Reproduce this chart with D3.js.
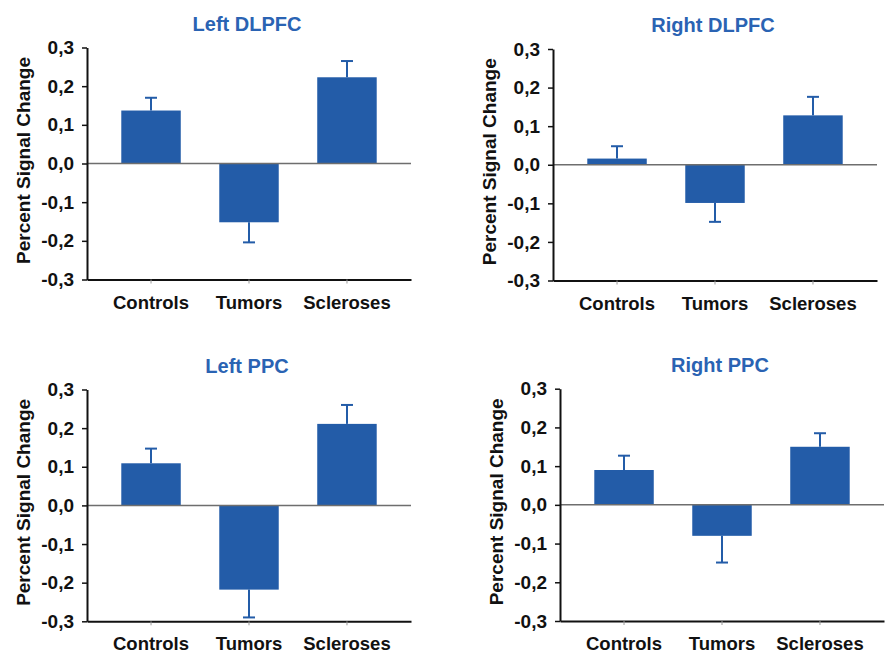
<!DOCTYPE html>
<html>
<head>
<meta charset="utf-8">
<script src="https://cdn.jsdelivr.net/npm/d3@7"></script>
<style>
  body { margin: 0; background: #fff; }
  svg { display: block; font-family: "Liberation Sans", Arial, sans-serif; font-weight: bold; }
</style>
</head>
<body>
<div id="chart"></div>
<script>
// data
const categories = ["Controls", "Tumors", "Scleroses"];
const titles = ["Left DLPFC", "Right DLPFC", "Left PPC", "Right PPC"];
const tickValues = [-0.3, -0.2, -0.1, 0.0, 0.1, 0.2, 0.3];

const leftDLPFC = [0.137, -0.152, 0.223];
const leftDLPFCErr = [0.033, 0.052, 0.042];
const rightDLPFC = [0.016, -0.099, 0.128];
const rightDLPFCErr = [0.032, 0.049, 0.048];
const leftPPC = [0.109, -0.218, 0.211];
const leftPPCErr = [0.038, 0.072, 0.049];
const rightPPC = [0.090, -0.080, 0.150];
const rightPPCErr = [0.037, 0.069, 0.035];

// panel placement in the page
const panels = [
  {title: titles[0], means: leftDLPFC,  errs: leftDLPFCErr,  x0: 87,  top: 47.5,  bottom: 279.5},
  {title: titles[1], means: rightDLPFC, errs: rightDLPFCErr, x0: 553, top: 49,    bottom: 280.5},
  {title: titles[2], means: leftPPC,    errs: leftPPCErr,    x0: 87,  top: 389.5, bottom: 621.3},
  {title: titles[3], means: rightPPC,   errs: rightPPCErr,   x0: 560, top: 388.7, bottom: 621}
];

const barColor = "#235ca8";
const titleColor = "#2a63b3";
const fmt = v => v.toFixed(1).replace(".", ",");

const svg = d3.select("#chart").append("svg")
  .attr("width", 886)
  .attr("height", 654);

panels.forEach(p => {
  const g = svg.append("g");

  const x = d3.scaleBand()
    .domain(categories)
    .range([p.x0, p.x0 + 324])
    .paddingInner(0.393)
    .paddingOuter(0.35);

  const y = d3.scaleLinear()
    .domain([-0.3, 0.3])
    .range([p.bottom, p.top]);

  const rows = categories.map((c, i) => ({cat: c, v: p.means[i], e: p.errs[i]}));

  // error bars (drawn first so the bar covers the stem start)
  const eb = g.selectAll(".err").data(rows).enter().append("g")
    .attr("stroke", barColor)
    .attr("stroke-width", 2);
  eb.append("line")
    .attr("x1", d => x(d.cat) + x.bandwidth() / 2)
    .attr("x2", d => x(d.cat) + x.bandwidth() / 2)
    .attr("y1", d => y(d.v))
    .attr("y2", d => y(d.v + Math.sign(d.v) * d.e));
  eb.append("line")
    .attr("x1", d => x(d.cat) + x.bandwidth() / 2 - 6)
    .attr("x2", d => x(d.cat) + x.bandwidth() / 2 + 6)
    .attr("y1", d => y(d.v + Math.sign(d.v) * d.e))
    .attr("y2", d => y(d.v + Math.sign(d.v) * d.e));

  g.selectAll("rect").data(rows).enter().append("rect")
    .attr("x", d => x(d.cat))
    .attr("width", x.bandwidth())
    .attr("y", d => y(Math.max(0, d.v)))
    .attr("height", d => Math.abs(y(d.v) - y(0)))
    .attr("fill", barColor);

  // zero line
  g.append("line")
    .attr("x1", p.x0)
    .attr("x2", p.x0 + 324)
    .attr("y1", y(0))
    .attr("y2", y(0))
    .attr("stroke", "#6e6e6e")
    .attr("stroke-width", 1.5);

  // x axis
  const xa = g.append("g")
    .attr("transform", `translate(0,${y(-0.3)})`)
    .call(d3.axisBottom(x).tickSize(4).tickSizeOuter(0).tickPadding(12));
  xa.select(".domain").attr("stroke", "#111").attr("stroke-width", 2);
  xa.selectAll(".tick line").attr("stroke", "#999");
  xa.selectAll("text")
    .attr("font-size", 18.5)
    .attr("font-family", "Liberation Sans, Arial, sans-serif")
    .attr("font-weight", "bold")
    .attr("fill", "#111");

  // y axis
  const ya = g.append("g")
    .attr("transform", `translate(${p.x0},0)`)
    .call(d3.axisLeft(y).tickValues(tickValues).tickFormat(fmt).tickSize(5).tickSizeOuter(0).tickPadding(8));
  ya.select(".domain").attr("stroke", "#111").attr("stroke-width", 2);
  ya.selectAll(".tick line").attr("stroke", "#111").attr("stroke-width", 1.5);
  ya.selectAll("text")
    .attr("font-size", 19)
    .attr("font-family", "Liberation Sans, Arial, sans-serif")
    .attr("font-weight", "bold")
    .attr("fill", "#111");

  // y label
  const cy = (p.top + p.bottom) / 2 - 3;
  g.append("text")
    .attr("transform", `translate(${p.x0 - 57},${cy}) rotate(-90)`)
    .attr("text-anchor", "middle")
    .attr("font-size", 19)
    .attr("fill", "#111")
    .text("Percent Signal Change");

  // title
  g.append("text")
    .attr("x", p.x0 + 160)
    .attr("y", p.top - 17)
    .attr("text-anchor", "middle")
    .attr("font-size", 20)
    .attr("fill", titleColor)
    .text(p.title);
});
</script>
</body>
</html>
